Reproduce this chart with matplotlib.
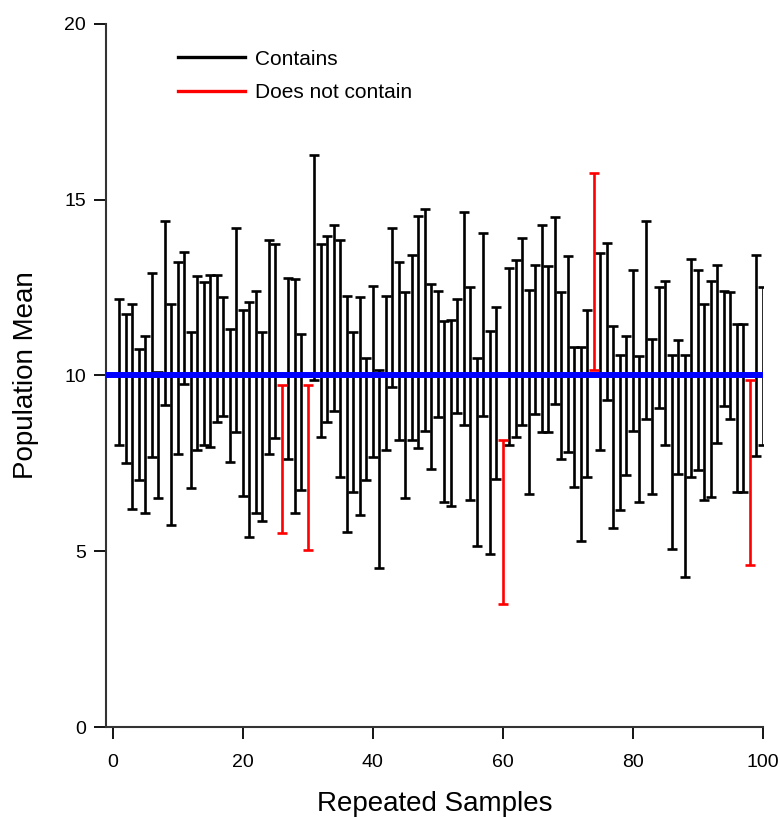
import matplotlib
matplotlib.use("Agg")
import matplotlib.pyplot as plt
import numpy as np
from matplotlib.lines import Line2D

plt.rcParams["font.family"] = ["Liberation Sans", "DejaVu Sans"]

true_mean = 10.0

samples = np.arange(1, 101)

lower = [
    8.03, 7.52, 6.20, 7.03, 6.08, 7.69, 6.52, 9.17, 5.75, 7.77,
    9.76, 6.80, 7.88, 8.03, 7.96, 8.67, 8.86, 7.53, 8.39, 6.56,
    5.42, 6.08, 5.85, 7.77, 8.21, 5.51, 7.63, 6.08, 6.75, 5.03,
    9.88, 8.26, 8.67, 8.98, 7.12, 5.56, 6.68, 6.03, 7.03, 7.69,
    4.52, 7.88, 9.67, 8.17, 6.51, 8.17, 7.94, 8.43, 7.34, 8.81,
    6.39, 6.30, 8.93, 8.60, 6.47, 5.16, 8.86, 4.92, 7.07, 3.51,
    8.03, 8.26, 8.60, 6.63, 8.91, 8.40, 8.40, 9.19, 7.63, 7.83,
    6.84, 5.30, 7.10, 10.16, 7.88, 9.29, 5.66, 6.17, 7.17, 8.43,
    6.39, 8.77, 6.63, 9.07, 8.03, 5.06, 7.20, 4.28, 7.10, 7.31,
    6.47, 6.55, 8.07, 9.12, 8.77, 6.70, 6.69, 4.61, 7.72, 8.03,
]

upper = [
    12.17, 11.74, 12.04, 10.76, 11.13, 12.92, 10.11, 14.38, 12.04, 13.23,
    13.50, 11.23, 12.82, 12.66, 12.85, 12.85, 12.23, 11.32, 14.18, 11.85,
    12.08, 12.40, 11.23, 13.86, 13.75, 9.72, 12.78, 12.73, 11.19, 9.72,
    16.28, 13.75, 13.96, 14.27, 13.86, 12.25, 11.23, 12.23, 10.49, 12.54,
    10.16, 12.27, 14.18, 13.23, 12.37, 13.42, 14.54, 14.73, 12.59, 12.40,
    11.55, 11.57, 12.17, 14.65, 12.52, 10.49, 14.04, 11.25, 11.95, 8.17,
    13.06, 13.28, 13.91, 12.42, 13.13, 14.27, 13.10, 14.51, 12.37, 13.40,
    10.81, 10.81, 11.87, 15.75, 13.49, 13.77, 11.42, 10.57, 11.12, 13.01,
    10.55, 14.39, 11.03, 12.52, 12.69, 10.57, 11.00, 10.57, 13.32, 13.01,
    12.04, 12.69, 13.13, 12.40, 12.37, 11.47, 11.47, 9.88, 13.42, 12.52,
]

lower = np.array(lower)
upper = np.array(upper)
centre = (lower + upper) / 2.0
half = (upper - lower) / 2.0
contains = (lower <= true_mean) & (upper >= true_mean)

fig = plt.figure(figsize=(7.8, 8.18), dpi=100)
ax = fig.add_axes([0.136, 0.111, 0.842, 0.86])

ax.errorbar(samples[contains], centre[contains], yerr=half[contains],
            fmt="none", ecolor="black", elinewidth=1.9, capsize=3.3,
            capthick=1.9, zorder=2)
ax.axhline(true_mean, color="#0000ff", linewidth=4.3, zorder=3)
ax.errorbar(samples[~contains], centre[~contains], yerr=half[~contains],
            fmt="none", ecolor="#ff0000", elinewidth=1.9, capsize=3.3,
            capthick=1.9, zorder=4)

ax.set_xlim(-1, 100)
ax.set_ylim(0, 20)
ax.set_xticks([0, 20, 40, 60, 80, 100])
ax.set_yticks([0, 5, 10, 15, 20])
ax.spines["top"].set_visible(False)
ax.spines["right"].set_visible(False)
ax.spines["bottom"].set_bounds(-1, 100)
for side in ["left", "bottom"]:
    ax.spines[side].set_linewidth(1.5)
    ax.spines[side].set_color("#333333")
ax.tick_params(axis="both", direction="out", length=8.5, width=1.3,
               labelsize=14)
ax.tick_params(axis="x", pad=11)
ax.tick_params(axis="y", pad=6)

ax.set_xlabel("Repeated Samples", fontsize=20, labelpad=14)
ax.set_ylabel("Population Mean", fontsize=20, labelpad=18)

handles = [
    Line2D([], [], color="black", linewidth=2.4),
    Line2D([], [], color="#ff0000", linewidth=2.4),
]
ax.legend(handles, ["Contains", "Does not contain"], loc="upper left",
          bbox_to_anchor=(0.11, 0.963), frameon=False, fontsize=15,
          borderpad=0, borderaxespad=0,
          handlelength=3.2, handletextpad=0.5, labelspacing=0.7)

fig.savefig("out.png", dpi=100)
